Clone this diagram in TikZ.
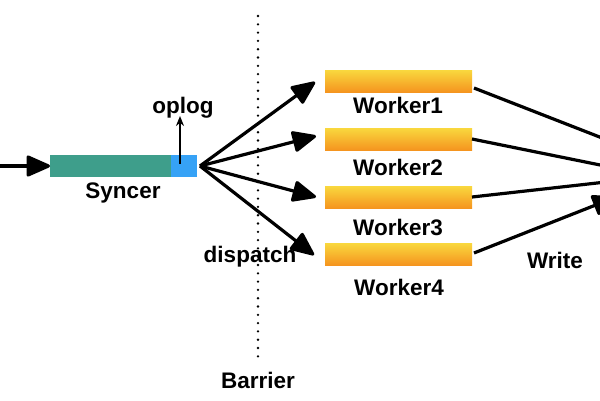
\documentclass[tikz,border=0pt]{standalone}
\usepackage{fontspec}
\setmainfont{Liberation Sans}
\usetikzlibrary{arrows.meta}
\definecolor{teal1}{HTML}{3E9E8B}
\definecolor{blue1}{HTML}{36A2F6}
\definecolor{wtop}{HTML}{F9D83E}
\definecolor{wbot}{HTML}{F5951F}
\tikzset{
  lbl/.style={font=\bfseries\fontsize{22.5}{26}\selectfont, anchor=base, inner sep=0pt},
  bar/.style={draw=none, minimum height=22pt, inner sep=0pt, outer sep=0pt},
  worker/.style={bar, minimum width=147pt, top color=wtop, bottom color=wbot},
  sk/.style={line width=3.2pt, line join=round, -{Triangle[length=26pt,width=22pt,line join=round]}},
  wr/.style={line width=3.2pt},
  barrier/.style={line width=2.6pt, line cap=round, dash pattern=on 0pt off 8.3pt}
}
\begin{document}
\begin{tikzpicture}[x=1pt,y=-1pt]
\useasboundingbox (0,0) rectangle (600,400);
% syncer
\node[bar, fill=teal1, minimum width=121pt, anchor=north west] (sync) at (50,155) {};
\node[bar, fill=blue1, minimum width=26pt, anchor=north west] (blue) at (171,155) {};
\node[lbl] (synclbl) at (123,198) {Syncer};
\coordinate (in) at (0,166);
\draw[sk] (in) -- (sync.west);
% oplog
\coordinate (opstart) at (180,164);
\node[lbl] (oplog) at (183,113) {oplog};
\draw[line width=1.8pt, -{Stealth[length=10pt,width=8pt]}] (opstart) -- (180,116);
% barrier
\coordinate (b1) at (258,16);
\coordinate (b2) at (258,360);
\draw[barrier] (b1) -- (b2);
\node[lbl] (barrier) at (258,388) {Barrier};
% workers
\node[worker, anchor=north west] (w1) at (325,70) {};
\node[worker, anchor=north west] (w2) at (325,128) {};
\node[worker, anchor=north west] (w3) at (325,186) {};
\node[worker, anchor=north west] (w4) at (325,243) {};
\node[lbl] (l1) at (398,113) {Worker1};
\node[lbl] (l2) at (398,175) {Worker2};
\node[lbl] (l3) at (398,235) {Worker3};
\node[lbl] (l4) at (399,295) {Worker4};
% dispatch
\coordinate (d) at (200,166);
\coordinate (d1) at (315,82);
\coordinate (d2) at (316,136);
\coordinate (d3) at (316,197);
\coordinate (d4) at (314,255);
\draw[sk] (d) -- (d1);
\draw[sk] (d) -- (d2);
\draw[sk] (d) -- (d3);
\draw[sk] (d) -- (d4);
\node[lbl] (disp) at (250,262) {dispatch};
% write
\coordinate (s1) at (474,88);
\coordinate (s2) at (472,139);
\coordinate (s3) at (472,197);
\coordinate (s4) at (474,253);
\coordinate (t1) at (615,143);
\coordinate (t2) at (615,168);
\coordinate (t3) at (615,181);
\coordinate (t4) at (616,197);
\draw[wr] (s1) -- (t1);
\draw[wr] (s2) -- (t2);
\draw[wr] (s3) -- (t3);
\draw[sk] (s4) -- (t4);
\node[lbl] (write) at (555,268) {Write};
\end{tikzpicture}
\end{document}
